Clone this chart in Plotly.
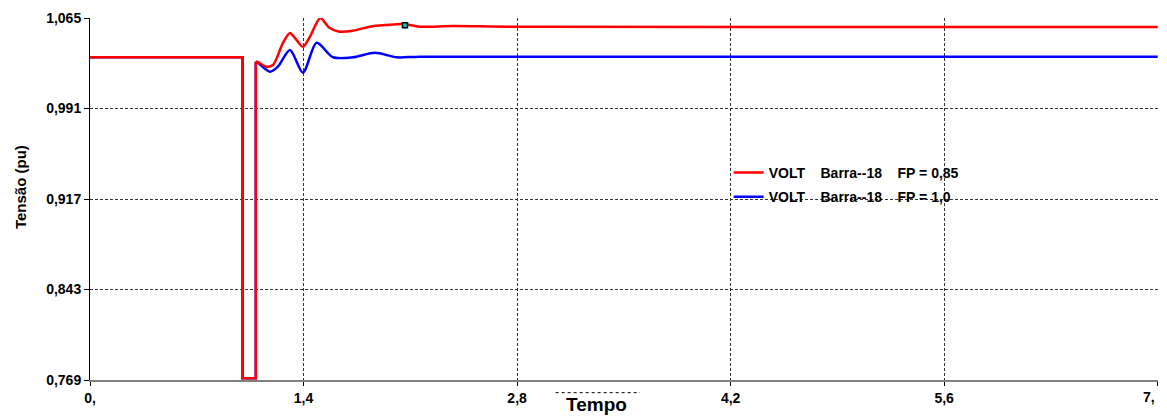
import plotly.graph_objects as go

# Data
t_red = [0.0, 1.0, 1.0, 1.087, 1.087, 1.10, 1.158, 1.20, 1.265, 1.311, 1.344, 1.396,
         1.442, 1.51, 1.565, 1.63, 1.724, 1.835, 1.945, 2.052, 2.163, 2.379, 2.8, 7.0]
v_red = [1.033, 1.033, 0.7705, 0.7705, 1.0293, 1.0290, 1.0252, 1.0266, 1.0446,
         1.0527, 1.0486, 1.0415, 1.0497, 1.0650, 1.0575, 1.0540, 1.0546, 1.0579, 1.0593, 1.0601, 1.0579,
         1.0585, 1.0578, 1.0576]

t_blue = [0.0, 1.0, 1.0, 1.087, 1.087, 1.10, 1.18, 1.232, 1.311, 1.396, 1.486,
          1.593, 1.724, 1.868, 2.010, 2.163, 7.0]
v_blue = [1.033, 1.033, 0.7705, 0.7705, 1.0293, 1.0285, 1.0211, 1.0252, 1.0388,
          1.0203, 1.0448, 1.0329, 1.0329, 1.0366, 1.0329, 1.0334, 1.0333]

marker_t = [2.065]
marker_v = [1.0590]

y_ticks = [0.769, 0.843, 0.917, 0.991, 1.065]
y_ticktext = ["0,769", "0,843", "0,917", "0,991", "1,065"]
x_ticks = [0, 1.4, 2.8, 4.2, 5.6, 7.0]
x_ticktext = ["0,", "1,4", "2,8", "4,2", "5,6", "7,"]

sp = "\u00a0\u00a0\u00a0\u00a0"
name_red = f"VOLT{sp}Barra--18{sp}FP = 0,85"
name_blue = f"VOLT{sp}Barra--18{sp}FP = 1,0"

FONT = "Arial, Liberation Sans, sans-serif"
REC = 4  # index where the post-fault recovery starts (smooth part)

fig = go.Figure()
for t, v, color, name, rank in [(t_blue, v_blue, "#0000ff", name_blue, 2),
                                (t_red, v_red, "#ff0000", name_red, 1)]:
    # stepped pre-fault / fault part (straight segments)
    fig.add_trace(go.Scatter(x=t[:REC + 1], y=v[:REC + 1], mode="lines", name=name,
                             legendgroup=name, legendrank=rank,
                             line=dict(color=color, width=2.5)))
    # smooth post-fault oscillation
    fig.add_trace(go.Scatter(x=t[REC:], y=v[REC:], mode="lines", name=name,
                             legendgroup=name, showlegend=False,
                             line=dict(color=color, width=2.5, shape="spline", smoothing=0.8)))

fig.add_trace(go.Scatter(x=marker_t, y=marker_v, mode="markers", showlegend=False,
                         marker=dict(symbol="square", size=5, color="#00c8c8",
                                     line=dict(color="black", width=1.5))))

# page body has an 8px margin: size the figure so that the plot area lands where the reference has it
fig.update_layout(
    width=1159, height=408,
    margin=dict(l=82, r=9, t=10, b=36),
    paper_bgcolor="white", plot_bgcolor="white",
    font=dict(family=FONT, size=14, color="black"),
    legend=dict(x=0.598, y=0.616, xanchor="left", yanchor="top",
                bgcolor="rgba(0,0,0,0)", borderwidth=0,
                font=dict(family=FONT, size=14, color="black", weight="bold"),
                itemwidth=30, tracegroupgap=3),
    showlegend=True,
)

# last tick label is drawn as a right-anchored annotation (as in the reference)
fig.update_xaxes(
    range=[0, 7.002], tickvals=x_ticks, ticktext=x_ticktext[:-1] + [""],
    tickfont=dict(family=FONT, size=14, weight="bold"),
    showgrid=True, gridcolor="#333333", griddash="3px,2px", gridwidth=1,
    showline=True, linecolor="#808080", linewidth=2,
    ticks="outside", ticklen=4, tickcolor="black",
    zeroline=False, automargin=False,
)
fig.update_yaxes(
    range=[0.769, 1.065], tickvals=y_ticks, ticktext=y_ticktext,
    tickfont=dict(family=FONT, size=14, weight="bold"),
    showgrid=True, gridcolor="#333333", griddash="3px,2px", gridwidth=1,
    showline=True, linecolor="black", linewidth=1,
    ticks="outside", ticklen=5, tickcolor="black",
    zeroline=False, automargin=False,
)

fig.add_annotation(text=x_ticktext[-1], x=x_ticks[-1], xref="x", yref="paper", y=-0.047,
                   showarrow=False, xanchor="right", yanchor="middle", xshift=-1,
                   font=dict(family=FONT, size=14, weight="bold", color="black"))
fig.add_annotation(text="Tempo", xref="paper", yref="paper", x=0.474, y=-0.069,
                   showarrow=False, xanchor="center", yanchor="middle",
                   font=dict(family=FONT, size=19, weight="bold", color="black"))
fig.add_annotation(text="Tensão (pu)", xref="paper", yref="paper", x=-0.0655, y=0.533,
                   showarrow=False, xanchor="center", yanchor="middle", textangle=-90,
                   font=dict(family=FONT, size=15, weight="bold", color="black"))

# dotted focus line above the x-axis title
fig.add_shape(type="line", xref="paper", yref="paper", x0=0.436, x1=0.515, y0=-0.035, y1=-0.035,
              line=dict(color="black", width=1, dash="dot"))

fig.write_html("out.html")
